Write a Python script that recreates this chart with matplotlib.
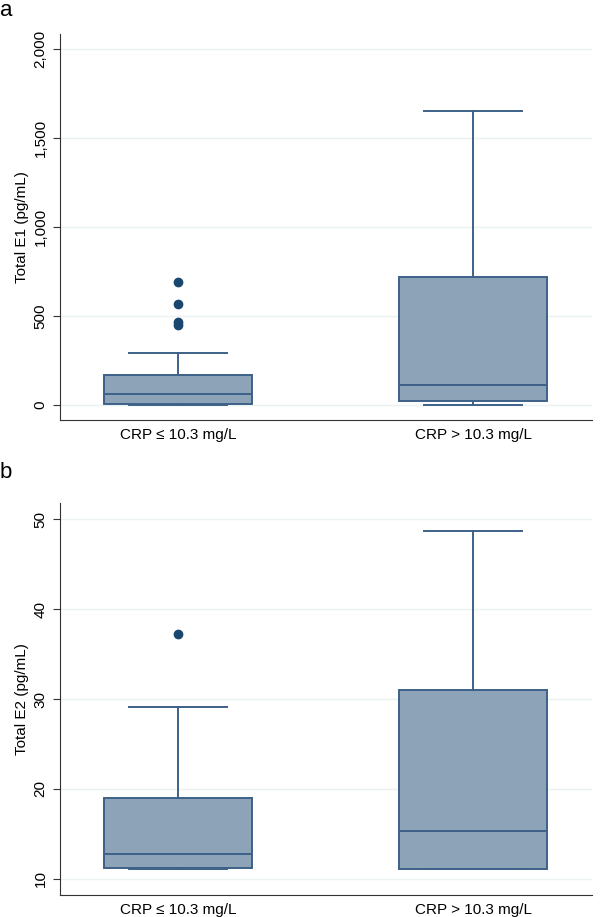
import matplotlib
matplotlib.use("Agg")
import matplotlib.pyplot as plt

plt.rcParams['font.family'] = ['Liberation Sans', 'DejaVu Sans']

categories = ["CRP \u2264 10.3 mg/L", "CRP > 10.3 mg/L"]

# Panel a: Total E1 (pg/mL)
e1_whislo = [2, 3]
e1_q1 = [6, 22]
e1_med = [62, 112]
e1_q3 = [168, 719]
e1_whishi = [292, 1652]
e1_fliers = [[691, 567, 466, 452], []]
e1_ticks = [0, 500, 1000, 1500, 2000]
e1_ticklabels = ["0", "500", "1,000", "1,500", "2,000"]

# Panel b: Total E2 (pg/mL)
e2_whislo = [11.1, 11.1]
e2_q1 = [11.2, 11.1]
e2_med = [12.8, 15.3]
e2_q3 = [19.0, 31.0]
e2_whishi = [29.1, 48.7]
e2_fliers = [[37.2], []]
e2_ticks = [10, 20, 30, 40, 50]
e2_ticklabels = ["10", "20", "30", "40", "50"]

FILL = "#8DA3B8"
EDGE = "#3D6189"
DOT = "#1A476F"
GRID = "#EAF2F3"

W, H = 601, 917
fig = plt.figure(figsize=(W / 100, H / 100), dpi=100)


def ax_rect(x0, x1, ytop, ybot):
    return [x0 / W, 1 - ybot / H, (x1 - x0) / W, (ybot - ytop) / H]


def panel(rect, whislo, q1, med, q3, whishi, fliers, ticks, ticklabels, ylabel, ylim):
    ax = fig.add_axes(rect)
    stats = []
    for i in range(len(categories)):
        stats.append(dict(whislo=whislo[i], q1=q1[i], med=med[i], q3=q3[i],
                          whishi=whishi[i], fliers=fliers[i], label=categories[i]))
    ax.bxp(stats, positions=[1, 2], widths=0.5, patch_artist=True,
           showfliers=True,
           boxprops=dict(facecolor=FILL, edgecolor=EDGE, linewidth=1.4),
           medianprops=dict(color=EDGE, linewidth=1.4),
           whiskerprops=dict(color=EDGE, linewidth=1.4),
           capprops=dict(color=EDGE, linewidth=1.4),
           capwidths=0.33,
           flierprops=dict(marker='o', markerfacecolor=DOT, markeredgecolor=DOT,
                           markersize=6, linestyle='none'))
    ax.set_xlim(0.6, 2.403)
    ax.set_ylim(*ylim)
    ax.set_yticks(ticks)
    ax.set_yticklabels(ticklabels, rotation=90, va='center', fontsize=11)
    ax.set_xticks([1, 2])
    ax.set_xticklabels(categories, fontsize=11)
    ax.tick_params(axis='x', length=0, pad=6)
    ax.tick_params(axis='y', length=5, width=0.8, color='#333333', pad=4)
    ax.set_ylabel(ylabel, fontsize=11, labelpad=3)
    for s in ['top', 'right']:
        ax.spines[s].set_visible(False)
    for s in ['left', 'bottom']:
        ax.spines[s].set_color('#333333')
        ax.spines[s].set_linewidth(0.8)
    ax.yaxis.grid(True, color=GRID, linewidth=1.0)
    ax.set_axisbelow(True)
    return ax


panel(ax_rect(60, 592, 34, 420), e1_whislo, e1_q1, e1_med, e1_q3, e1_whishi,
      e1_fliers, e1_ticks, e1_ticklabels, "Total E1 (pg/mL)", (-84, 2084))
panel(ax_rect(60, 592, 503, 895), e2_whislo, e2_q1, e2_med, e2_q3, e2_whishi,
      e2_fliers, e2_ticks, e2_ticklabels, "Total E2 (pg/mL)", (8.22, 51.78))

fig.text(0, 1 - 10 / H, "a", fontsize=16, va='center', ha='left')
fig.text(0, 1 - 472 / H, "b", fontsize=16, va='center', ha='left')

fig.savefig("out.png", dpi=100, facecolor='white')
